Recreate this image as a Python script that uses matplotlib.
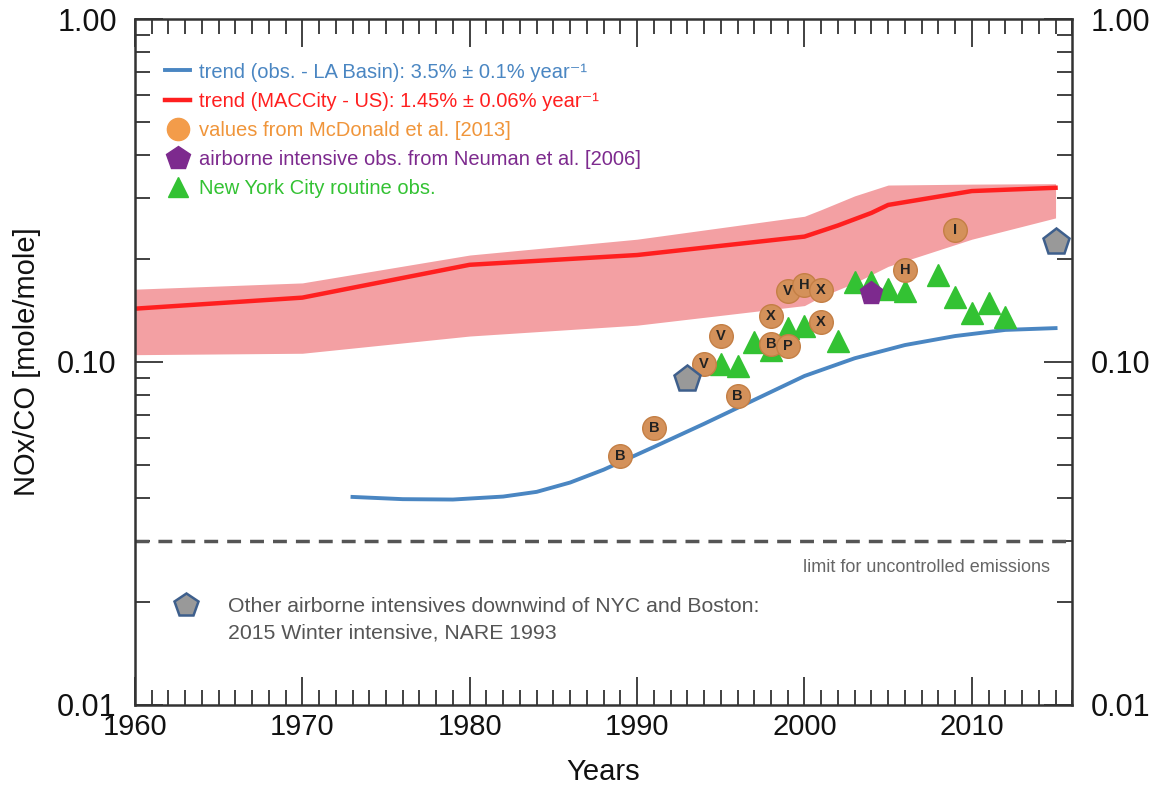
import numpy as np
import matplotlib.pyplot as plt
from matplotlib.lines import Line2D
from matplotlib.ticker import FixedLocator, LogLocator, NullFormatter, MultipleLocator

plt.rcParams['font.family'] = ['Liberation Sans', 'DejaVu Sans']

# MACCity US trend
mac_years = [1960, 1970, 1980, 1990, 2000, 2002, 2004, 2005, 2010, 2015]
mac_vals = [0.143, 0.154, 0.192, 0.205, 0.232, 0.250, 0.272, 0.287, 0.315, 0.322]

# MACCity uncertainty band
band_years = [1960, 1970, 1980, 1990, 2000, 2001, 2003, 2005, 2010, 2015]
band_low = [0.105, 0.106, 0.119, 0.128, 0.146, 0.155, 0.170, 0.190, 0.228, 0.263]
band_high = [0.163, 0.170, 0.205, 0.228, 0.266, 0.278, 0.305, 0.328, 0.330, 0.331]

# LA Basin observed trend
la_years = [1973, 1976, 1979, 1982, 1984, 1986, 1988, 1991, 1994, 1997, 2000, 2003, 2006, 2009, 2012, 2015]
la_vals = [0.0404, 0.0398, 0.0397, 0.0405, 0.0418, 0.0445, 0.0485, 0.0565, 0.0660, 0.0775, 0.0910,
           0.1025, 0.1120, 0.1190, 0.1240, 0.1255]

# McDonald et al. [2013]
mcd_years = [1989, 1991, 1994, 1995, 1996, 1998, 1998, 1999, 1999, 2000, 2001, 2001, 2006, 2009]
mcd_vals = [0.0532, 0.0642, 0.0987, 0.119, 0.0796, 0.1362, 0.1128, 0.111, 0.161, 0.168,
            0.162, 0.1308, 0.1855, 0.2425]
mcd_tags = ['B', 'B', 'V', 'V', 'B', 'X', 'B', 'P', 'V', 'H', 'X', 'X', 'H', 'I']

# New York City routine obs.
nyc_years = [1995, 1996, 1997, 1998, 1999, 2000, 2002, 2003, 2004, 2005, 2006, 2008, 2009, 2010, 2011, 2012]
nyc_vals = [0.0987, 0.0974, 0.1144, 0.1083, 0.1256, 0.1273, 0.1152, 0.171, 0.171, 0.1632,
            0.161, 0.1793, 0.1547, 0.139, 0.1486, 0.1353]

# Neuman et al. [2006]
neu_years = [2004]
neu_vals = [0.159]

# other airborne intensives (NARE 1993, 2015 Winter)
oth_years = [1993, 2015]
oth_vals = [0.0892, 0.224]

uncontrolled_limit = 0.03

c_blue = '#4a86c2'
c_red = '#ff1f1f'
c_band = '#f3a0a3'
c_orange = '#d4915a'
c_purple = '#7d2a8e'
c_green = '#33c233'
c_grey = '#999999'
c_edge = '#3e5f8c'

fig = plt.figure(figsize=(11.53, 7.92), dpi=100)
ax = fig.add_axes([0.117, 0.110, 0.813, 0.866])

ax.fill_between(band_years, band_low, band_high, color=c_band, lw=0, zorder=1)
ax.plot(mac_years, mac_vals, color=c_red, lw=3.2, zorder=2)
ax.plot(la_years, la_vals, color=c_blue, lw=2.8, zorder=2)
ax.axhline(uncontrolled_limit, color='#555555', lw=2.5, dashes=(4, 2.6), zorder=2)

ax.plot(nyc_years, nyc_vals, '^', color=c_green, ms=16, mec=c_green, zorder=3, ls='none')
ax.plot(mcd_years, mcd_vals, 'o', color=c_orange, ms=17, mec='#c47f45', mew=1, zorder=4, ls='none')
for yr, v, t in zip(mcd_years, mcd_vals, mcd_tags):
    ax.text(yr, v, t, ha='center', va='center', fontsize=10.5, fontweight='bold', color='#222222', zorder=5)
ax.plot(neu_years, neu_vals, 'p', color=c_purple, ms=17, mec=c_purple, zorder=5, ls='none')
ax.plot(oth_years, oth_vals, 'p', color=c_grey, ms=20, mec=c_edge, mew=1.8, zorder=5, ls='none')

ax.text(0.9765, 0.200, 'limit for uncontrolled emissions', transform=ax.transAxes,
        ha='right', va='center', fontsize=13, color='#666666')

ax.set_yscale('log')
ax.set_xlim(1960, 2016)
ax.set_ylim(0.01, 1.0)
ax.xaxis.set_major_locator(MultipleLocator(10))
ax.xaxis.set_minor_locator(MultipleLocator(1))
ax.yaxis.set_major_locator(FixedLocator([0.01, 0.1, 1.0]))
ax.yaxis.set_minor_locator(LogLocator(base=10, subs=np.arange(2, 10)))
ax.yaxis.set_minor_formatter(NullFormatter())
ax.set_yticklabels(['0.01', '0.10', '1.00'])
ax.tick_params(which='both', direction='in', top=True, right=True, colors='#333333',
               labelcolor='#111111', width=1.3)
ax.tick_params(which='major', length=20, pad=8)
ax.tick_params(which='minor', length=11)
ax.tick_params(axis='x', labelsize=21, pad=6)
ax.tick_params(axis='y', labelsize=22, labelright=True, pad=13)
for s in ax.spines.values():
    s.set_color('#333333')
    s.set_linewidth(1.8)

ax.set_xlabel('Years', fontsize=21, color='#111111', labelpad=12)
ax.set_ylabel('NOx/CO [mole/mole]', fontsize=21, color='#111111', labelpad=12)

handles = [
    Line2D([], [], color=c_blue, lw=2.8),
    Line2D([], [], color=c_red, lw=3.2),
    Line2D([], [], marker='o', ls='none', color='#f39c4a', ms=16),
    Line2D([], [], marker='p', ls='none', color=c_purple, ms=18),
    Line2D([], [], marker='^', ls='none', color=c_green, ms=15),
]
labels = [
    'trend (obs. - LA Basin): 3.5% ± 0.1% year⁻¹',
    'trend (MACCity - US): 1.45% ± 0.06% year⁻¹',
    'values from McDonald et al. [2013]',
    'airborne intensive obs. from Neuman et al. [2006]',
    'New York City routine obs.',
]
leg = ax.legend(handles, labels, loc='upper left', bbox_to_anchor=(0.013, 0.963),
                frameon=False, fontsize=14.5, handlelength=1.25, handletextpad=0.45,
                labelspacing=0.5, labelcolor=[c_blue, c_red, '#f0953a', c_purple, c_green])
ax.add_artist(leg)

oth_handle = Line2D([], [], marker='p', ls='none', color=c_grey, mec=c_edge, mew=1.8, ms=18)
leg2 = ax.legend([oth_handle], ['Other airborne intensives downwind of NYC and Boston:'],
                 loc='center left', bbox_to_anchor=(0.018, 0.1435), frameon=False, fontsize=15.3,
                 handlelength=1.4, handletextpad=1.3, labelcolor='#555555')

# second line of the bottom note, aligned under the first
fig.canvas.draw()
bb = leg2.get_texts()[0].get_window_extent()
x0 = ax.transAxes.inverted().transform((bb.x0, bb.y0))[0]
ax.text(x0, 0.1045, '2015 Winter intensive, NARE 1993', transform=ax.transAxes,
        ha='left', va='center', fontsize=15.3, color='#555555')

fig.savefig('out.png', dpi=100)
